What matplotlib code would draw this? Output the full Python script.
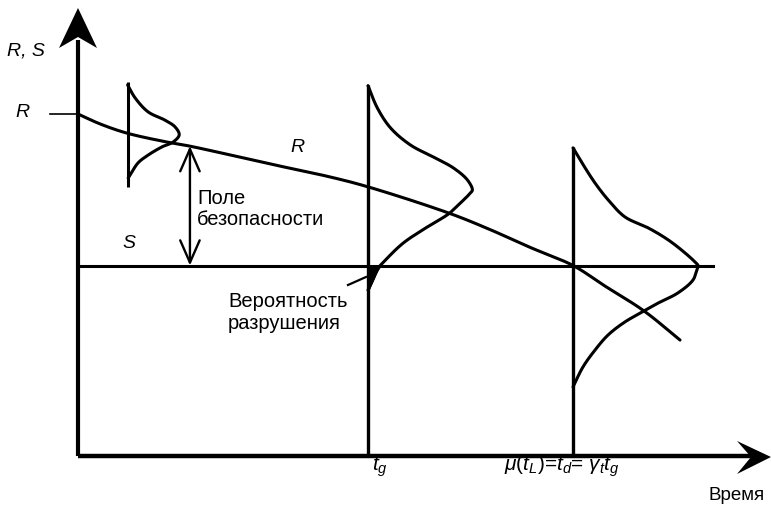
import numpy as np
import matplotlib
matplotlib.use("Agg")
import matplotlib.pyplot as plt
from matplotlib.transforms import Affine2D
from matplotlib.patches import Polygon, FancyArrowPatch

plt.rcParams['font.family'] = ['Liberation Sans', 'DejaVu Sans']
plt.rcParams['mathtext.fontset'] = 'custom'
plt.rcParams['mathtext.rm'] = 'Liberation Sans'
plt.rcParams['mathtext.it'] = 'Liberation Sans:italic'

# Degrading resistance R(t) and constant load S (normalised units, R(0) = 1, t_g = 1)
t_R = [0.000, 0.076, 0.169, 0.307, 0.386, 0.662, 0.869, 1.000, 1.283, 1.421, 1.559,
       1.707, 1.817, 1.952, 2.076]
R_vals = [1.000, 0.971, 0.944, 0.918, 0.906, 0.854, 0.816, 0.787, 0.709, 0.662, 0.610,
          0.557, 0.497, 0.424, 0.339]
S_level = 0.557
S_end = 2.19
t_g = 1.0
t_d = 1.707
t_margin = 0.386

# Distributions of R at three instants: value v and density width w (in time units)
pdf1_t = 0.171
pdf1_span = (0.787, 1.094)
pdf1_v = [1.085, 1.047, 1.006, 0.982, 0.962, 0.939, 0.918, 0.904, 0.880, 0.857, 0.822, 0.813]
pdf1_w = [0.000, 0.026, 0.071, 0.129, 0.164, 0.178, 0.157, 0.119, 0.071, 0.036, 0.009, 0.002]

pdf2_t = t_g
pdf2_span = (0.0, 1.085)
pdf2_v = [1.083, 1.018, 0.959, 0.909, 0.874, 0.842, 0.807, 0.778, 0.769, 0.740, 0.708,
          0.670, 0.623, 0.579, 0.550, 0.515, 0.485]
pdf2_w = [0.000, 0.032, 0.078, 0.147, 0.226, 0.295, 0.343, 0.360, 0.353, 0.319, 0.278,
          0.205, 0.122, 0.067, 0.036, 0.016, 0.000]

pdf3_t = t_d
pdf3_span = (0.0, 0.904)
pdf3_v = [0.901, 0.857, 0.798, 0.749, 0.699, 0.667, 0.632, 0.594, 0.567, 0.557, 0.547,
          0.515, 0.477, 0.447, 0.424, 0.392, 0.354, 0.310, 0.260, 0.202]
pdf3_w = [0.000, 0.031, 0.076, 0.121, 0.179, 0.259, 0.328, 0.386, 0.421, 0.431, 0.428,
          0.414, 0.362, 0.293, 0.245, 0.179, 0.121, 0.076, 0.034, 0.000]

W, H = 771, 505
X0, Y0 = 78, 456          # pixel position of the origin
SX, SY = 290, 342         # pixels per unit of time / value


def smooth_curve(x, y, n=24, alpha=0.5):
    """Centripetal Catmull-Rom through the given points (knots measured on screen)."""
    P = np.column_stack([np.asarray(x, float) * SX, np.asarray(y, float) * SY])
    P = np.vstack([2 * P[0] - P[1], P, 2 * P[-1] - P[-2]])
    out = []
    for i in range(1, len(P) - 2):
        p0, p1, p2, p3 = P[i - 1], P[i], P[i + 1], P[i + 2]
        t0 = 0.0
        t1 = t0 + max(np.linalg.norm(p1 - p0), 1e-6) ** alpha
        t2 = t1 + max(np.linalg.norm(p2 - p1), 1e-6) ** alpha
        t3 = t2 + max(np.linalg.norm(p3 - p2), 1e-6) ** alpha
        t = np.linspace(t1, t2, n, endpoint=False)[:, None]
        A1 = (t1 - t) / (t1 - t0) * p0 + (t - t0) / (t1 - t0) * p1
        A2 = (t2 - t) / (t2 - t1) * p1 + (t - t1) / (t2 - t1) * p2
        A3 = (t3 - t) / (t3 - t2) * p2 + (t - t2) / (t3 - t2) * p3
        B1 = (t2 - t) / (t2 - t0) * A1 + (t - t0) / (t2 - t0) * A2
        B2 = (t3 - t) / (t3 - t1) * A2 + (t - t1) / (t3 - t1) * A3
        out.append((t2 - t) / (t2 - t1) * B1 + (t - t1) / (t2 - t1) * B2)
    out.append(P[-2][None])
    pts = np.vstack(out)
    return pts[:, 0] / SX, pts[:, 1] / SY


fig = plt.figure(figsize=(W / 100, H / 100), dpi=100)
ax = fig.add_axes([0, 0, 1, 1])
ax.set_xlim(-X0 / SX, (W - X0) / SX)
ax.set_ylim(-(H - Y0) / SY, Y0 / SY)
ax.axis('off')

# pixel-based transform (origin top-left) for annotations
px = Affine2D().scale(1 / W, -1 / H).translate(0, 1) + fig.transFigure

LW = 2.2
K = 'black'

# axes with arrowheads
ax.plot([X0, X0], [Y0, 40], color=K, lw=3.0, transform=px, solid_capstyle='butt')
ax.plot([X0, 752], [Y0, Y0], color=K, lw=3.2, transform=px, solid_capstyle='butt')
ax.add_patch(Polygon([(78, 8), (97, 48), (78, 37), (59, 48)], closed=True,
                     transform=px, color=K, lw=0))
ax.add_patch(Polygon([(771, 457), (737, 441), (751, 457), (737, 474)], closed=True,
                     transform=px, color=K, lw=0))

# small tick for R at t = 0
ax.plot([50, X0], [Y0 - SY * R_vals[0]] * 2, color=K, lw=1.2, transform=px)

# R curve
rx, ry = smooth_curve(t_R, R_vals)
ax.plot(rx, ry, color=K, lw=LW, solid_capstyle='round')

# S line
ax.plot([0, S_end], [S_level, S_level], color=K, lw=LW)

# distributions
for t0, span, pv, pw, lwb in [(pdf1_t, pdf1_span, pdf1_v, pdf1_w, 2.2),
                              (pdf2_t, pdf2_span, pdf2_v, pdf2_w, 2.4),
                              (pdf3_t, pdf3_span, pdf3_v, pdf3_w, 2.4)]:
    ax.plot([t0, t0], span, color=K, lw=lwb, solid_capstyle='butt')
    wx, vy = smooth_curve(pw, pv)
    ax.plot(t0 + wx, vy, color=K, lw=LW, solid_capstyle='round')

# probability of failure: tail of R below S at t_g
wx, vy = smooth_curve(pdf2_w, pdf2_v)
ip = int(np.argmax(wx))
vl, wl = vy[ip:], wx[ip:]
ax.fill_betweenx(vl, pdf2_t, pdf2_t + wl, where=vl <= S_level, interpolate=True,
                 color=K, lw=1.5, edgecolor=K)

# safety margin arrow
R_at_margin = R_vals[t_R.index(t_margin)]
ax.add_patch(FancyArrowPatch((t_margin, S_level), (t_margin, R_at_margin),
                             arrowstyle='<->,head_length=0.8,head_width=0.35',
                             mutation_scale=20, lw=1.7, color=K,
                             shrinkA=0, shrinkB=0))

# leader line to the failure region
ax.plot([348, 366], [285, 277], color=K, lw=1.6, transform=px)

# labels
it = dict(style='italic', fontsize=14, transform=px, color=K)
ax.text(7, 55, 'R, S', ha='left', va='baseline', **it)
ax.text(15, 117, 'R', ha='left', va='baseline', **it)
ax.text(290, 152, 'R', ha='left', va='baseline', **it)
ax.text(122, 248, 'S', ha='left', va='baseline', **it)

rt = dict(fontsize=14.5, transform=px, color=K, ha='left', va='baseline')
ax.text(197, 204, 'Поле', **rt)
ax.text(197, 225, 'безопасности', **rt)
ax.text(228, 307, 'Вероятность', **rt)
ax.text(228, 329, 'разрушения', **rt)
ax.text(708, 500, 'Время', fontsize=13.5, transform=px, color=K, ha='left', va='baseline')

ax.text(372, 471, r'$t_g$', fontsize=15, transform=px, ha='left', va='baseline')
ax.text(504, 471, r'$\mu(t_L)$=$t_d$= $\gamma_t t_g$', fontsize=15, transform=px,
        ha='left', va='baseline')

fig.savefig('out.png', dpi=100)
